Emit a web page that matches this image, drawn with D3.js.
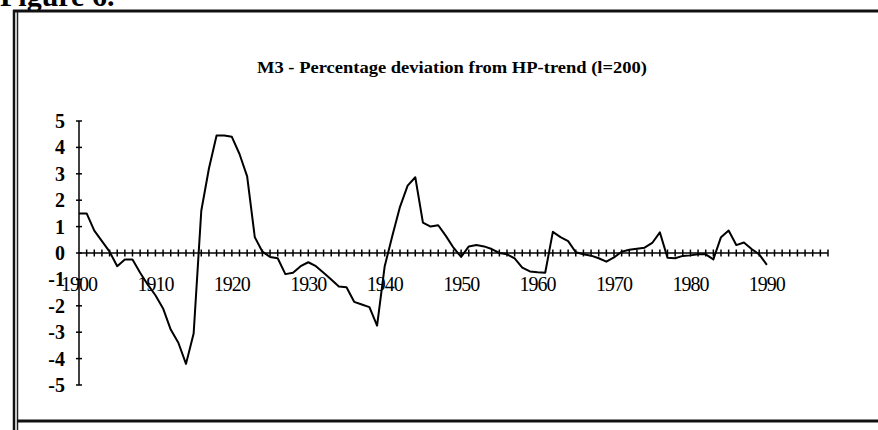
<!DOCTYPE html>
<html>
<head>
<meta charset="utf-8">
<script src="https://cdn.jsdelivr.net/npm/d3@7"></script>
<style>
  body { margin: 0; background: #fff; }
  svg { display: block; font-family: "Liberation Serif", "Times New Roman", serif; }
</style>
</head>
<body>
<div id="chart"></div>
<script>
// Data
var years = d3.range(1900, 1991);
var deviation = [
  1.5, 1.5, 0.85, 0.45, 0.05, -0.5, -0.25, -0.25, -0.75, -1.2,
  -1.6, -2.1, -2.9, -3.4, -4.2, -3.05, 1.6, 3.2, 4.45, 4.45,
  4.4, 3.75, 2.9, 0.6, 0.05, -0.15, -0.2, -0.8, -0.75, -0.5,
  -0.35, -0.5, -0.75, -1.0, -1.27, -1.3, -1.85, -1.95, -2.05, -2.75,
  -0.5, 0.65, 1.75, 2.55, 2.87, 1.15, 1.0, 1.05, 0.65, 0.2,
  -0.15, 0.25, 0.3, 0.25, 0.15, 0.0, -0.05, -0.2, -0.55, -0.7,
  -0.73, -0.75, 0.8, 0.6, 0.45, 0.03, -0.05, -0.1, -0.2, -0.33,
  -0.17, 0.05, 0.12, 0.16, 0.2, 0.38, 0.78, -0.18, -0.2, -0.11,
  -0.09, -0.05, -0.05, -0.24, 0.6, 0.85, 0.3, 0.4, 0.15, -0.05,
  -0.45
];
var yTicks = [5, 4, 3, 2, 1, 0, -1, -2, -3, -4, -5];
var xLabels = [1900, 1910, 1920, 1930, 1940, 1950, 1960, 1970, 1980, 1990];
var lastTickYear = 1998;
var title = "M3 - Percentage deviation from HP-trend (l=200)";

var svg_width = 878;
var svg_height = 430;

var svg = d3.select("#chart")
  .append("svg")
  .attr("width", svg_width)
  .attr("height", svg_height);

// Scales
var x = d3.scaleLinear().domain([1900, lastTickYear]).range([79, 828]);
var y = d3.scaleLinear().domain([-5, 5]).range([385, 121]);

// Caption cut at the top of the page
svg.append("text")
  .attr("x", 0)
  .attr("y", 6)
  .style("font-size", "30px")
  .style("font-weight", "bold")
  .text("Figure 6.");

// Frame
svg.append("line")
  .attr("x1", 13).attr("x2", svg_width)
  .attr("y1", 11).attr("y2", 11)
  .attr("stroke", "#111").attr("stroke-width", 3);
svg.append("line")
  .attr("x1", 14).attr("x2", 14)
  .attr("y1", 10).attr("y2", svg_height)
  .attr("stroke", "#111").attr("stroke-width", 2.5);
svg.append("line")
  .attr("x1", 17.5).attr("x2", 17.5)
  .attr("y1", 12).attr("y2", svg_height)
  .attr("stroke", "#222").attr("stroke-width", 1.5);
svg.append("line")
  .attr("x1", 17).attr("x2", svg_width)
  .attr("y1", 421).attr("y2", 421)
  .attr("stroke", "#111").attr("stroke-width", 3);

// Title
svg.append("text")
  .attr("x", 452)
  .attr("y", 73)
  .attr("text-anchor", "middle")
  .attr("textLength", 390)
  .attr("lengthAdjust", "spacingAndGlyphs")
  .style("font-size", "16.5px")
  .style("font-weight", "bold")
  .text(title);

// Y axis with cross ticks
var yAxis = svg.append("g").attr("class", "y-axis");
yAxis.append("line")
  .attr("x1", x(1900)).attr("x2", x(1900))
  .attr("y1", y(5)).attr("y2", y(-5))
  .attr("stroke", "#000").attr("stroke-width", 1.5);
yAxis.selectAll(".ytick")
  .data(yTicks)
  .enter()
  .append("line")
  .attr("x1", x(1900) - 3).attr("x2", x(1900) + 3)
  .attr("y1", function(d) { return y(d); })
  .attr("y2", function(d) { return y(d); })
  .attr("stroke", "#000").attr("stroke-width", 1.5);
yAxis.selectAll(".ylabel")
  .data(yTicks)
  .enter()
  .append("text")
  .attr("x", 65)
  .attr("y", function(d) { return y(d) + 7; })
  .attr("text-anchor", "end")
  .style("font-size", "20px")
  .style("font-weight", "bold")
  .text(function(d) { return d; });

// X axis along zero with a tick every year
var xAxis = svg.append("g").attr("class", "x-axis");
xAxis.append("line")
  .attr("x1", x(1900)).attr("x2", x(lastTickYear))
  .attr("y1", y(0)).attr("y2", y(0))
  .attr("stroke", "#000").attr("stroke-width", 1.5);
xAxis.selectAll(".xtick")
  .data(d3.range(1901, lastTickYear + 1))
  .enter()
  .append("line")
  .attr("x1", function(d) { return x(d); })
  .attr("x2", function(d) { return x(d); })
  .attr("y1", y(0) - 3.5).attr("y2", y(0) + 3.5)
  .attr("stroke", "#000").attr("stroke-width", 1.5);
xAxis.selectAll(".xlabel")
  .data(xLabels)
  .enter()
  .append("text")
  .attr("x", function(d) { return x(d); })
  .attr("y", 291)
  .attr("text-anchor", "middle")
  .style("font-size", "20px")
  .style("letter-spacing", "-1px")
  .text(function(d) { return d; });

// Series
var line = d3.line()
  .x(function(d, i) { return x(years[i]); })
  .y(function(d) { return y(d); });

svg.append("path")
  .datum(deviation)
  .attr("d", line)
  .attr("fill", "none")
  .attr("stroke", "#000")
  .attr("stroke-width", 2)
  .attr("stroke-linejoin", "round");
</script>
</body>
</html>
